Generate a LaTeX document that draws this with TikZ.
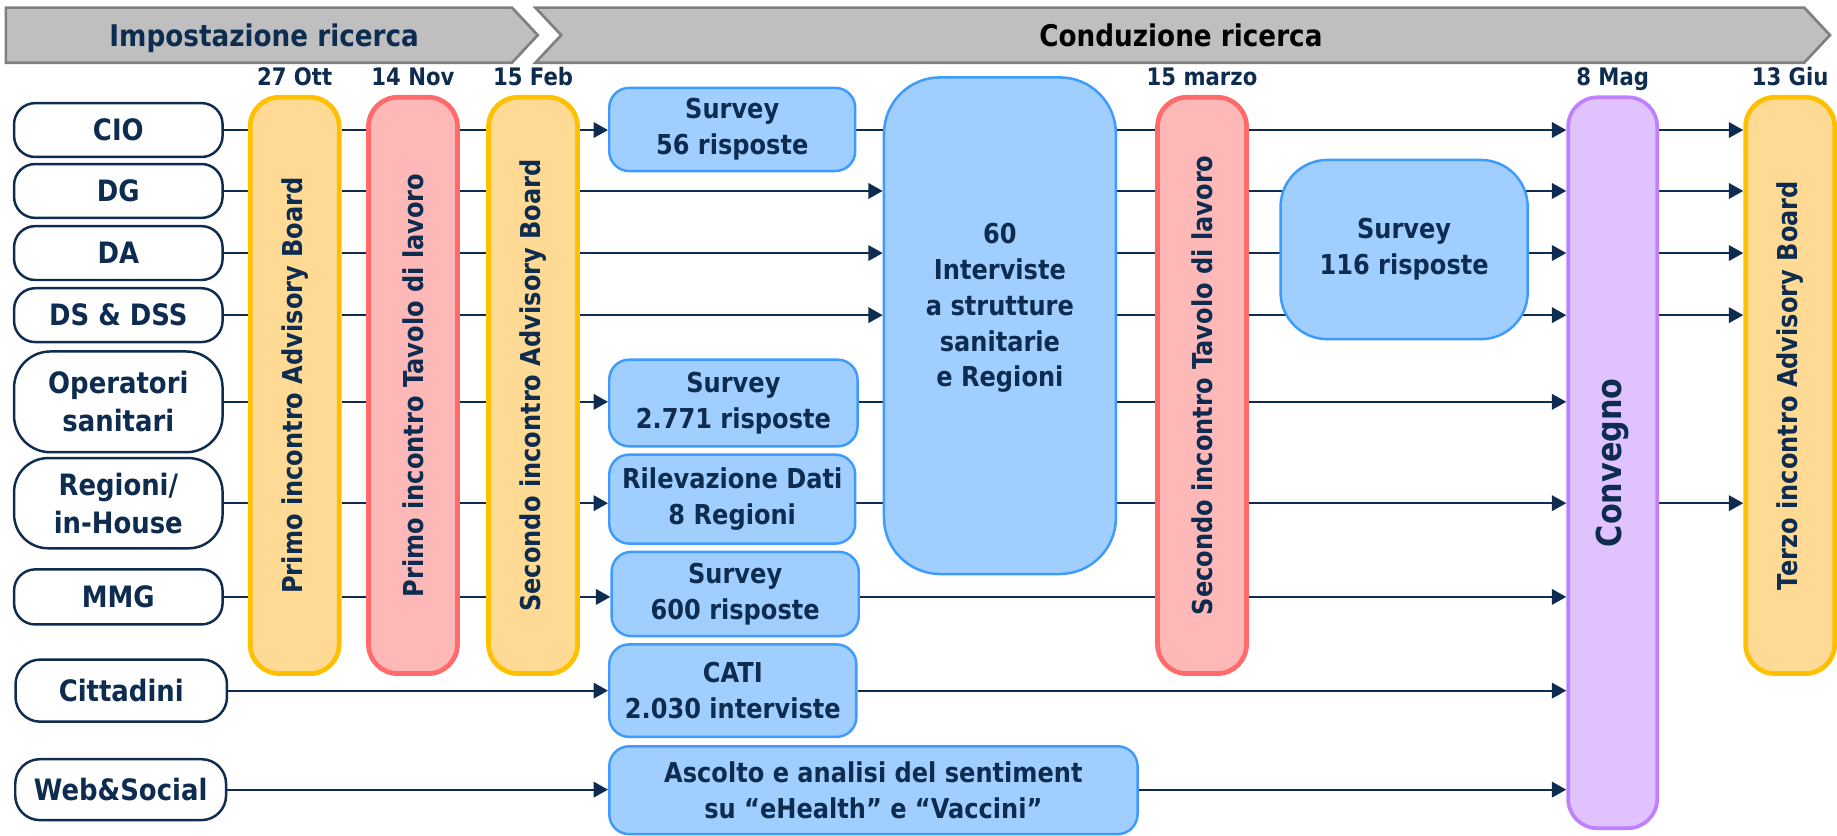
\documentclass[tikz,border=0pt]{standalone}
\usepackage{fontspec}
\setmainfont{DejaVu Sans}[FakeStretch=0.88]
\usepackage{graphicx}
\usetikzlibrary{positioning,arrows.meta,backgrounds}

\definecolor{navy}{HTML}{0D2C4F}
\definecolor{bandfill}{HTML}{BFBFBF}
\definecolor{bandline}{HTML}{808080}
\definecolor{abfill}{HTML}{FFDA94}
\definecolor{abline}{HTML}{FFC000}
\definecolor{tlfill}{HTML}{FFB8B8}
\definecolor{tlline}{HTML}{FF6B6B}
\definecolor{actfill}{HTML}{A0CFFF}
\definecolor{actline}{HTML}{3D9BFF}
\definecolor{convfill}{HTML}{E0C2FF}
\definecolor{convline}{HTML}{BF80FF}

\tikzset{
  band/.style={fill=bandfill, draw=bandline, line width=1.3pt},
  head/.style={anchor=base, inner sep=0pt, font=\fontsize{14.5}{17}\selectfont\bfseries},
  who/.style={draw=navy, fill=white, line width=1.2pt, text=navy, align=center,
    inner sep=0pt, minimum width=3.56cm, minimum height=0.92cm, rounded corners=0.36cm,
    font=\fontsize{14.3}{18.6}\selectfont\bfseries},
  board/.style={minimum width=1.52cm, minimum height=9.84cm, rounded corners=0.5cm,
    line width=2.3pt, inner sep=0pt, text=navy, font=\fontsize{13.3}{16}\selectfont\bfseries},
  ab/.style={board, draw=abline, fill=abfill},
  tl/.style={board, draw=tlline, fill=tlfill},
  act/.style={draw=actline, fill=actfill, line width=1.2pt, rounded corners=0.34cm,
    align=center, inner sep=0pt, text=navy, font=\fontsize{13.3}{17.4}\selectfont\bfseries},
  date/.style={inner sep=0pt, text depth=0pt, text=navy, font=\fontsize{11.7}{14}\selectfont\bfseries},
  link/.style={draw=navy, line width=1.1pt},
}

\begin{document}
\begin{tikzpicture}[x=0.02cm, y=-0.02cm, >={Triangle[length=7pt,width=7.5pt]}]
\useasboundingbox (0,0) rectangle (1568,713);

% phases
\draw[band] (5,6.5) -- (437,6.5) -- (459,30) -- (437,53.5) -- (5,53.5) -- cycle;
\draw[band] (457,6.5) -- (1540,6.5) -- (1562,30) -- (1540,53.5) -- (457,53.5) -- (479,30) -- cycle;
\node[head, text=navy] (imp) at (225.5,40) {Impostazione ricerca};
\node[head, text=black] (cond) at (1008,40) {Conduzione ricerca};

% target groups
\node[who] (cio) at (101,111) {CIO};
\node[who] (dg) at (101,163) {DG};
\node[who] (da) at (101,216) {DA};
\node[who] (ds) at (101,269) {DS \& DSS};
\node[who, minimum height=1.72cm, rounded corners=0.62cm] (op) at (101,343) {Operatori\\sanitari};
\node[who, minimum height=1.54cm, rounded corners=0.58cm] (reg) at (101,429.5) {Regioni/\\in-House};
\node[who, minimum height=0.94cm] (mmg) at (101,509.5) {MMG};
\node[who, minimum width=3.61cm, minimum height=1.06cm, rounded corners=0.42cm] (cit) at (103.5,589.5) {Cittadini};
\node[who, minimum width=3.6cm, minimum height=1.04cm, rounded corners=0.42cm] (web) at (103,674) {Web\&Social};

% meetings
\node[ab] (pAB) at (251.5,329) {\rotatebox{90}{Primo incontro Advisory Board}};
\node[tl] (pTL) at (352.5,329) {\rotatebox{90}{Primo incontro Tavolo di lavoro}};
\node[ab] (sAB) at (455,329) {\rotatebox{90}{Secondo incontro Advisory Board}};
\node[tl] (sTL) at (1026,329) {\rotatebox{90}{Secondo incontro Tavolo di lavoro}};
\node[board, draw=convline, fill=convfill, line width=1.8pt, minimum height=12.48cm,
  font=\fontsize{16.7}{20}\selectfont\bfseries] (conv) at (1376.5,395) {\rotatebox{90}{Convegno}};
\node[ab] (tAB) at (1528,329) {\rotatebox{90}{Terzo incontro Advisory Board}};

\node[date, above=4.5pt of pAB.north] (d1) {27 Ott};
\node[date, above=4.5pt of pTL.north] (d2) {14 Nov};
\node[date, above=4.5pt of sAB.north] (d3) {15 Feb};
\node[date, above=4.5pt of sTL.north] (d4) {15 marzo};
\node[date, above=4.5pt of conv.north] (d5) {8 Mag};
\node[date, above=4.5pt of tAB.north] (d6) {13 Giu};

% activities
\node[act, minimum width=4.2cm, minimum height=1.42cm] (s56) at (625,110.5) {Survey\\56 risposte};
\node[act, minimum width=3.96cm, minimum height=8.48cm, rounded corners=0.96cm] (int) at (853.5,278) {};
\node[act, draw=none, fill=none] (intlab) at (853.5,263) {60\\Interviste\\a strutture\\sanitarie\\e Regioni};
\node[act, minimum width=4.24cm, minimum height=1.48cm] (s2771) at (626,344) {Survey\\2.771 risposte};
\node[act, minimum width=4.2cm, minimum height=1.52cm] (ril) at (625,426) {Rilevazione Dati\\8 Regioni};
\node[act, minimum width=4.22cm, minimum height=1.44cm] (s600) at (627.5,507) {Survey\\600 risposte};
\node[act, minimum width=4.22cm, minimum height=1.58cm] (cati) at (625.5,589.5) {CATI\\2.030 interviste};
\node[act, minimum width=9.02cm, minimum height=1.5cm] (asc) at (745.5,674.5) {Ascolto e analisi del sentiment\\su “eHealth” e “Vaccini”};
\node[act, minimum width=4.22cm, minimum height=3.06cm, rounded corners=0.8cm] (s116) at (1198.5,213) {Survey\\116 risposte};

\begin{scope}[on background layer]
% through the first meetings
\foreach \r in {cio,dg,da,ds,op,reg,mmg}{
  \draw[link] (\r) -- (\r -| pAB.west);
  \draw[link] (\r -| pAB.east) -- (\r -| pTL.west);
  \draw[link] (\r -| pTL.east) -- (\r -| sAB.west);
}
% CIO
\draw[link,->] (cio -| sAB.east) -- (cio -| s56.west);
\draw[link] (cio -| s56.east) -- (cio -| int.west);
\draw[link] (cio -| int.east) -- (cio -| sTL.west);
\draw[link,->] (cio -| sTL.east) -- (cio -| conv.west);
\draw[link,->] (cio -| conv.east) -- (cio -| tAB.west);
% DG, DA, DS
\foreach \r in {dg,da,ds}{
  \draw[link,->] (\r -| sAB.east) -- (\r -| int.west);
  \draw[link] (\r -| int.east) -- (\r -| sTL.west);
  \draw[link] (\r -| sTL.east) -- (\r -| s116.center);
  \draw[link,->] (\r -| s116.center) -- (\r -| conv.west);
  \draw[link,->] (\r -| conv.east) -- (\r -| tAB.west);
}
% operatori
\draw[link,->] (op -| sAB.east) -- (op -| s2771.west);
\draw[link] (op -| s2771.east) -- (op -| int.west);
\draw[link] (op -| int.east) -- (op -| sTL.west);
\draw[link,->] (op -| sTL.east) -- (op -| conv.west);
% regioni
\draw[link,->] (reg -| sAB.east) -- (reg -| ril.west);
\draw[link] (reg -| ril.east) -- (reg -| int.west);
\draw[link] (reg -| int.east) -- (reg -| sTL.west);
\draw[link,->] (reg -| sTL.east) -- (reg -| conv.west);
\draw[link,->] (reg -| conv.east) -- (reg -| tAB.west);
% MMG
\draw[link,->] (mmg -| sAB.east) -- (mmg -| s600.west);
\draw[link] (mmg -| s600.east) -- (mmg -| sTL.west);
\draw[link,->] (mmg -| sTL.east) -- (mmg -| conv.west);
% cittadini, web
\draw[link,->] (cit) -- (cit -| cati.west);
\draw[link,->] (cit -| cati.east) -- (cit -| conv.west);
\draw[link,->] (web) -- (web -| asc.west);
\draw[link,->] (web -| asc.east) -- (web -| conv.west);
\end{scope}
\end{tikzpicture}
\end{document}
